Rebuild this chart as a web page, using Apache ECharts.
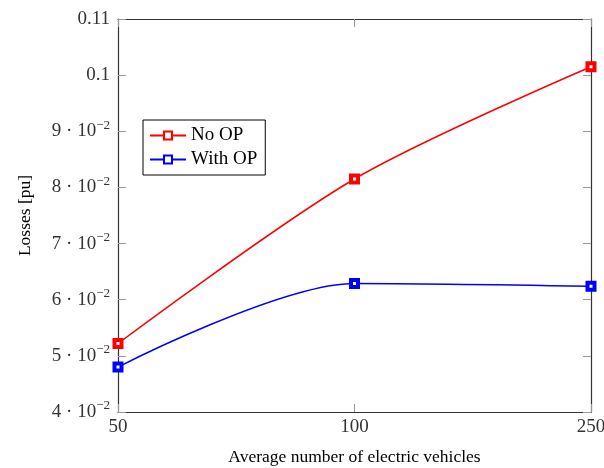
<!DOCTYPE html>
<html>
<head>
<meta charset="utf-8">
<script src="https://cdn.jsdelivr.net/npm/echarts@6/dist/echarts.min.js"></script>
<style>
  html, body { margin: 0; padding: 0; background: #fff; }
  #chart { width: 604px; height: 468px; }
</style>
</head>
<body>
<div id="chart"></div>
<script>
const categories = ['50', '100', '250']
const noOp = [0.0522, 0.0815, 0.1015]
const withOp = [0.0480, 0.0629, 0.0624]
const yTicks = [0.04, 0.05, 0.06, 0.07, 0.08, 0.09, 0.1, 0.11]

const font = 'Liberation Serif'
const tickColor = '#999'

function yLabel(v) {
  const r = Math.round(v * 100) / 100
  if (r >= 0.1) return '{a|' + String(r) + '}'
  return '{a|' + Math.round(r * 100) + ' · 10}{sup|−2}'
}

function makeSeries(name, data, color) {
  return {
    name: name,
    type: 'line',
    data: data,
    smooth: 0.3,
    symbol: 'rect',
    symbolSize: 7,
    showAllSymbol: true,
    lineStyle: { color: color, width: 1.5 },
    itemStyle: { color: '#fff', borderColor: color, borderWidth: 4 }
  }
}

const chart = echarts.init(document.getElementById('chart'))
chart.setOption({
  animation: false,
  textStyle: { fontFamily: font },
  grid: { left: 118, right: 13, top: 19, bottom: 56, outerBoundsMode: 'none' },
  legend: {
    orient: 'vertical',
    left: 143,
    top: 120,
    padding: [6, 8, 6, 6],
    itemGap: 5,
    itemWidth: 36,
    itemHeight: 10,
    borderColor: '#000',
    borderWidth: 1,
    textStyle: { fontFamily: font, fontSize: 19, color: '#000' },
    data: ['No OP', 'With OP']
  },
  xAxis: [
    {
      type: 'category',
      data: categories,
      boundaryGap: false,
      name: 'Average number of electric vehicles',
      nameLocation: 'middle',
      nameGap: 36,
      nameTextStyle: { fontFamily: font, fontSize: 17.5, color: '#000' },
      axisLine: { lineStyle: { color: '#333', width: 1.2 } },
      axisTick: { inside: true, length: 8, lineStyle: { color: tickColor } },
      axisLabel: { fontFamily: font, fontSize: 19, color: '#333', margin: 6 },
      splitLine: { show: false }
    },
    {
      type: 'category',
      data: categories,
      boundaryGap: false,
      position: 'top',
      axisLine: { lineStyle: { color: '#333', width: 1.2 } },
      axisTick: { inside: true, length: 8, lineStyle: { color: tickColor } },
      axisLabel: { show: false },
      splitLine: { show: false }
    }
  ],
  yAxis: [
    {
      type: 'value',
      min: 0.04,
      max: 0.11,
      interval: 0.01,
      name: 'Losses [pu]',
      nameLocation: 'middle',
      nameGap: 84,
      nameTextStyle: { fontFamily: font, fontSize: 17.5, color: '#000' },
      axisLine: { show: true, lineStyle: { color: '#333', width: 1.2 } },
      axisTick: { show: true, inside: true, length: 8, lineStyle: { color: tickColor } },
      axisLabel: {
        margin: 8,
        formatter: yLabel,
        rich: {
          a: { fontFamily: font, fontSize: 19, color: '#333' },
          sup: { fontFamily: font, fontSize: 13, color: '#333', padding: [0, 0, 12, 0] }
        }
      },
      splitLine: { show: false }
    },
    {
      type: 'value',
      min: 0.04,
      max: 0.11,
      interval: 0.01,
      position: 'right',
      axisLine: { show: true, lineStyle: { color: '#333', width: 1.2 } },
      axisTick: { show: true, inside: true, length: 8, lineStyle: { color: tickColor } },
      axisLabel: { show: false },
      splitLine: { show: false }
    }
  ],
  series: [
    makeSeries('No OP', noOp, '#ff0000'),
    makeSeries('With OP', withOp, '#0000ff')
  ]
})
</script>
</body>
</html>
